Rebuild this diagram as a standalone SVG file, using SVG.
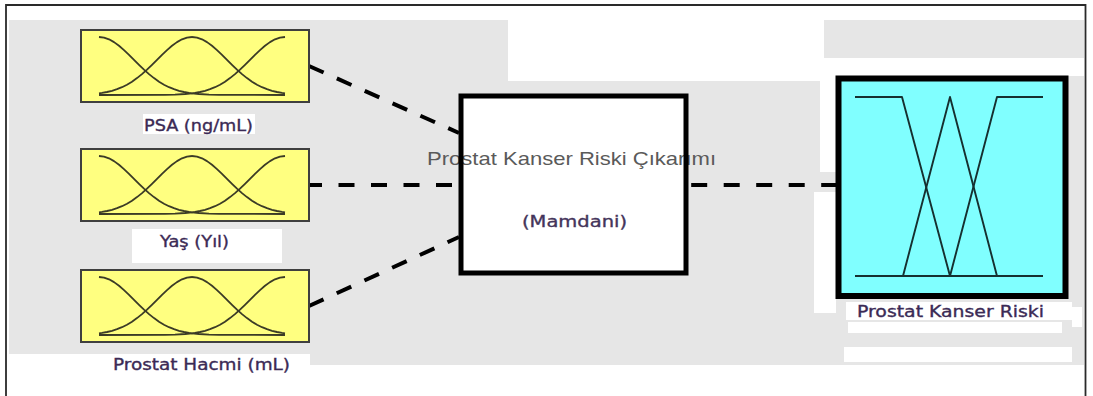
<svg xmlns="http://www.w3.org/2000/svg" width="1093" height="396" viewBox="0 0 1093 396">
  <style>
    .bg{fill:#e6e6e6}
    .wt{fill:#ffffff}
    .inbox{fill:#ffff80;stroke:#3f3f3f;stroke-width:2}
    .gauss{fill:none;stroke:#3b3b26;stroke-width:1.8;stroke-linejoin:round}
    .lbl{font-family:"DejaVu Sans",Verdana,sans-serif;font-size:16px;fill:#3b2a55;stroke:#3b2a55;stroke-width:0.35}
    .dash-h{fill:none;stroke:#000;stroke-width:4;stroke-dasharray:16 16.5}
    .dash-d{fill:none;stroke:#000;stroke-width:4;stroke-dasharray:16 14.5}
    .tri{fill:none;stroke:#163030;stroke-width:1.9;stroke-linejoin:round}
  </style>
  <defs>
    <!-- half gaussian, peak at origin, falls to the right; short and long tail versions -->
    <path id="gh" d="M0,-58 L5,-57.4 L10,-55.7 L15,-52.9 L20,-49.2 L25,-44.9 L30,-40.2 L35,-35.2 L40,-30.2 L45,-25.4 L50,-20.9 L55,-16.9 L60,-13.3 L65,-10.3 L70,-7.8 L75,-5.8 L80,-4.2 L85,-3 L90,-2.1 L93,-1.7"/>
    <path id="gf" d="M0,-58 L5,-57.4 L10,-55.7 L15,-52.9 L20,-49.2 L25,-44.9 L30,-40.2 L35,-35.2 L40,-30.2 L45,-25.4 L50,-20.9 L55,-16.9 L60,-13.3 L65,-10.3 L70,-7.8 L75,-5.8 L80,-4.2 L85,-3 L90,-2.1 L93,-1.7 L100,-1 L110,-0.4 L120,-0.15 L186,0"/>
    <!-- three gaussian membership functions over a 186px range -->
    <g id="mf3" class="gauss">
      <use href="#gf"/>
      <use href="#gh" transform="translate(93,0)"/>
      <use href="#gh" transform="translate(93,0) scale(-1,1)"/>
      <use href="#gf" transform="translate(186,0) scale(-1,1)"/>
    </g>
  </defs>

  <!-- canvas -->
  <rect x="0" y="0" width="1093" height="396" fill="#fff"/>

  <!-- grey backdrop regions -->
  <g id="backdrop">
    <rect class="bg" x="9" y="20" width="499" height="61"/>
    <rect class="bg" x="9" y="81" width="811" height="273"/>
    <rect class="bg" x="310" y="172" width="774" height="193"/>
    <rect class="bg" x="1066" y="76" width="18" height="96"/>
    <rect class="bg" x="824" y="20" width="260" height="38"/>
    <rect class="wt" x="814" y="192" width="22" height="121"/>
    <rect class="wt" x="143" y="114" width="112" height="20"/>
    <rect class="wt" x="132" y="229" width="150" height="34"/>
    <rect class="wt" x="846" y="302" width="226" height="18"/>
    <rect class="wt" x="1072" y="307" width="10" height="20"/>
    <rect class="wt" x="848" y="322" width="214" height="11"/>
    <rect class="wt" x="844" y="347" width="228" height="15"/>
  </g>

  <!-- connectors -->
  <g id="connectors">
    <path class="dash-d" d="M309,66 L459,133"/>
    <path class="dash-h" d="M309,185 L459,185" stroke-dashoffset="3"/>
    <path class="dash-d" d="M309,306 L459,237"/>
    <path class="dash-h" d="M688,185 L836,185" stroke-dashoffset="-3.2"/>
  </g>

  <!-- input: PSA -->
  <g id="in-psa">
    <rect class="inbox" x="81" y="30" width="228" height="72"/>
    <use href="#mf3" x="99" y="95"/>
    <text class="lbl" x="144" y="131" textLength="109" lengthAdjust="spacingAndGlyphs">PSA (ng/mL)</text>
  </g>

  <!-- input: age -->
  <g id="in-yas">
    <rect class="inbox" x="81" y="149" width="228" height="72"/>
    <use href="#mf3" x="99" y="214"/>
    <text class="lbl" x="160" y="247" textLength="69" lengthAdjust="spacingAndGlyphs">Yaş (Yıl)</text>
  </g>

  <!-- input: prostate volume -->
  <g id="in-hacim">
    <rect class="inbox" x="81" y="270" width="228" height="72"/>
    <use href="#mf3" x="99" y="335"/>
    <text class="lbl" x="113" y="370" textLength="177" lengthAdjust="spacingAndGlyphs">Prostat Hacmi (mL)</text>
  </g>

  <!-- inference engine -->
  <g id="engine">
    <rect x="461" y="96" width="225" height="177" fill="#fff"/>
    <text x="427" y="164.5" font-family="'Liberation Sans',Arial,sans-serif" font-size="19" fill="#5a5a5a" textLength="289" lengthAdjust="spacingAndGlyphs">Prostat Kanser Riski Çıkarımı</text>
    <text class="lbl" x="522" y="227" textLength="105" lengthAdjust="spacingAndGlyphs" style="fill:#44345a;stroke:#44345a">(Mamdani)</text>
    <rect x="461" y="96" width="225" height="177" fill="none" stroke="#000" stroke-width="5"/>
  </g>

  <!-- output: risk -->
  <g id="out-risk">
    <rect x="838.5" y="78.5" width="227" height="217.5" fill="#80ffff" stroke="#000" stroke-width="6"/>
    <path class="tri" d="M855,97 L902,97 L950,276"/>
    <path class="tri" d="M903,276 L950,97 L997,276"/>
    <path class="tri" d="M950,276 L997,97 L1043,97"/>
    <path class="tri" d="M855,276 L1043,276"/>
    <text class="lbl" x="857" y="316.5" textLength="187" lengthAdjust="spacingAndGlyphs">Prostat Kanser Riski</text>
  </g>

  <!-- outer frame -->
  <path d="M6,396 V5 H1085.5 V396" fill="none" stroke="#2a2a2a" stroke-width="1.8"/>
</svg>
